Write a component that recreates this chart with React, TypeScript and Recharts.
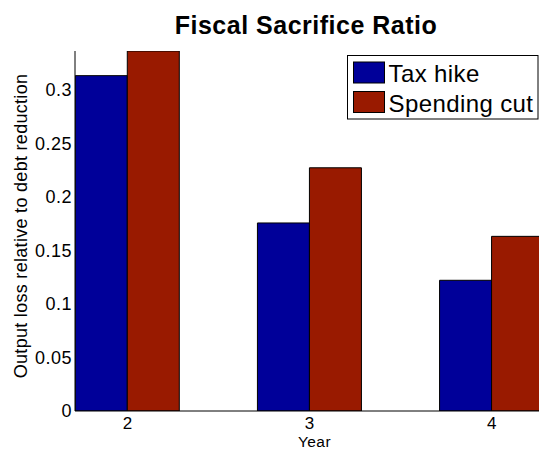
import React from 'react';
import { BarChart, Bar, XAxis, YAxis, Legend } from 'recharts';

const years = [2, 3, 4];
const taxHike = [0.313, 0.1755, 0.122];
const spendingCut = [0.336, 0.227, 0.163];
const yTicks = [0, 0.05, 0.1, 0.15, 0.2, 0.25, 0.3];
const xTicks = [2, 3, 4];
const seriesOrder = ['tax', 'spend'];

const BLUE = '#000099';
const RED = '#991a00';
const FONT = '"Liberation Sans", Arial, Helvetica, sans-serif';

const data = years.map((y, i) => ({ year: y, tax: taxHike[i], spend: spendingCut[i] }));

const LegendBox = (props: any) => {
  const payload = [...(props.payload || [])].sort(
    (a: any, b: any) => seriesOrder.indexOf(a.dataKey) - seriesOrder.indexOf(b.dataKey)
  );
  return (
    <svg width={192} height={65} style={{ display: 'block' }}>
      <rect x={0.5} y={0.5} width={190.5} height={63.5} fill="#fff" stroke="#000" strokeWidth={1} />
      {payload.map((p: any, i: number) => (
        <g key={i}>
          <rect x={6.5} y={7 + i * 29.5} width={31} height={21} fill={p.color} stroke="#000" strokeWidth={1} />
          <text x={41.5} y={26.5 + i * 30.5} fontSize={24} fontFamily={FONT} fill="#000" style={{ letterSpacing: '0.4px' }}>
            {p.value}
          </text>
        </g>
      ))}
    </svg>
  );
};

export default function App() {
  return (
    <div style={{ position: 'absolute', left: 0, top: 0, width: 539, height: 450, overflow: 'hidden', background: '#fff' }}>
      <BarChart
        width={539}
        height={450}
        data={data}
        margin={{ top: 51, right: -5, bottom: 0, left: 0 }}
        barGap={0}
        barSize={52}
      >
        <XAxis
          dataKey="year"
          type="number"
          domain={[1.7125, 4.2875]}
          ticks={xTicks}
          allowDataOverflow
          height={39}
          tickSize={0}
          tickLine={false}
          tickMargin={6}
          axisLine={{ stroke: '#000', strokeWidth: 1 }}
          tick={{ fill: '#000', fontSize: 17, fontFamily: FONT }}
        />
        <YAxis
          type="number"
          domain={[0, 0.336]}
          ticks={yTicks}
          allowDataOverflow
          width={75}
          tickSize={0}
          tickLine={false}
          tickMargin={3}
          axisLine={{ stroke: '#000', strokeWidth: 1 }}
          tick={{ fill: '#000', fontSize: 18, fontFamily: FONT, style: { letterSpacing: '0.5px' } } as any}
          tickFormatter={(v: number) => String(v)}
        />
        <Legend
          layout="vertical"
          align="center"
          verticalAlign="middle"
          content={LegendBox}
          wrapperStyle={{ position: 'absolute', left: 347, top: 55, width: 192, height: 65 }}
        />
        <Bar dataKey="tax" name="Tax hike" fill={BLUE} stroke="#000" strokeWidth={1} isAnimationActive={false} />
        <Bar dataKey="spend" name="Spending cut" fill={RED} stroke="#000" strokeWidth={1} isAnimationActive={false} />
      </BarChart>
      <svg width={539} height={450} style={{ position: 'absolute', left: 0, top: 0, pointerEvents: 'none' }}>
        <text x={306} y={34} textAnchor="middle" fontSize={25} fontWeight="bold" fontFamily={FONT} fill="#000" style={{ letterSpacing: '0.5px' }}>
          Fiscal Sacrifice Ratio
        </text>
        <text
          x={26.5}
          y={226}
          textAnchor="middle"
          fontSize={18}
          fontFamily={FONT}
          fill="#000"
          transform="rotate(-90 26.5 226)"
          style={{ letterSpacing: '0.3px' }}
        >
          Output loss relative to debt reduction
        </text>
        <text x={314.5} y={447} textAnchor="middle" fontSize={15.5} fontFamily={FONT} fill="#000" style={{ letterSpacing: '0.4px' }}>
          Year
        </text>
      </svg>
    </div>
  );
}
